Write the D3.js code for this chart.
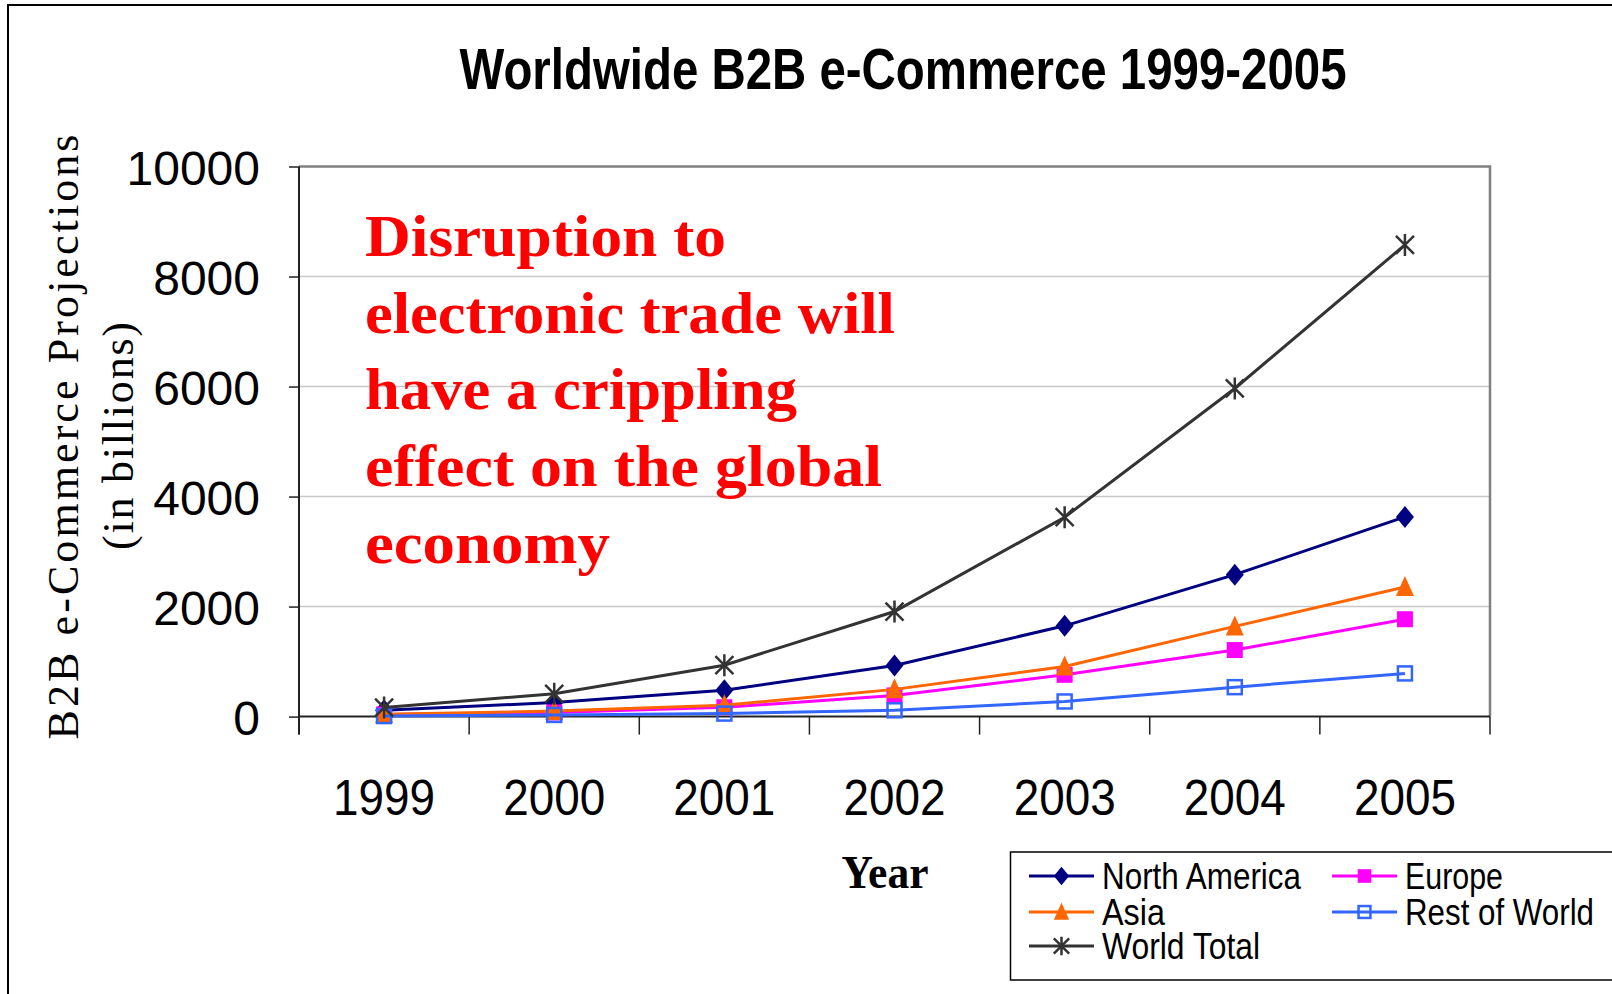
<!DOCTYPE html>
<html>
<head>
<meta charset="utf-8">
<script src="https://cdn.jsdelivr.net/npm/d3@7"></script>
<style>
  html, body { margin: 0; padding: 0; background: #fff; }
  svg { display: block; }
</style>
</head>
<body>
<svg id="chart" width="1612" height="994"></svg>
<script>
// Years on the category axis
const years = ["1999", "2000", "2001", "2002", "2003", "2004", "2005"];

// B2B e-commerce projections, billions of US dollars
const northAmerica = [115, 255, 480, 930, 1650, 2580, 3630];
const europe       = [40, 75, 170, 385, 760, 1210, 1770];
const asia         = [45, 100, 205, 495, 910, 1640, 2355];
const restOfWorld  = [10, 30, 55, 115, 275, 535, 785];
const worldTotal   = [165, 415, 935, 1910, 3625, 5965, 8575];

// Value axis ticks
const yTicks = [0, 2000, 4000, 6000, 8000, 10000];

// Annotation lines
const noteLines = [
  "Disruption to",
  "electronic trade will",
  "have a crippling",
  "effect on the global",
  "economy"
];
const noteWidths = [361, 530, 432, 517, 245];

const series = [
  { name: "North America", values: northAmerica, color: "#000080", marker: "diamond" },
  { name: "Europe",        values: europe,       color: "#FF00FF", marker: "square" },
  { name: "Asia",          values: asia,         color: "#FF6600", marker: "triangle" },
  { name: "Rest of World", values: restOfWorld,  color: "#3366FF", marker: "openSquare" },
  { name: "World Total",   values: worldTotal,   color: "#333333", marker: "star" }
];

const svg = d3.select("#chart");

// Plot area
const plot = { left: 299, right: 1490, top: 166.5, bottom: 716.6 };

const x = d3.scaleBand().domain(years).range([plot.left, plot.right]);
const y = d3.scaleLinear().domain([0, 10000]).range([plot.bottom, plot.top]);

// Outer chart frame
svg.append("rect")
  .attr("x", 8).attr("y", 5)
  .attr("width", 1700).attr("height", 1100)
  .attr("fill", "#fff").attr("stroke", "#000").attr("stroke-width", 2);

// Title
svg.append("text")
  .attr("x", 903).attr("y", 89)
  .attr("text-anchor", "middle")
  .attr("font-family", "'Liberation Sans Narrow', 'Arial Narrow', 'Liberation Sans', Arial, sans-serif")
  .attr("font-weight", "bold")
  .attr("font-size", 57)
  .attr("textLength", 887)
  .attr("lengthAdjust", "spacingAndGlyphs")
  .text("Worldwide B2B e-Commerce 1999-2005");

// Horizontal gridlines
svg.append("g")
  .selectAll("line")
  .data(yTicks.filter(d => d > 0 && d < 10000))
  .join("line")
  .attr("x1", plot.left).attr("x2", plot.right)
  .attr("y1", d => y(d)).attr("y2", d => y(d))
  .attr("stroke", "#c8c8c8").attr("stroke-width", 1.5);

// Plot area border (top and right)
svg.append("path")
  .attr("d", `M${plot.left},${plot.top}H${plot.right}V${plot.bottom}`)
  .attr("fill", "none").attr("stroke", "#808080").attr("stroke-width", 2.5);

// Value axis
const yAxis = svg.append("g")
  .attr("transform", `translate(${plot.left},0)`)
  .call(d3.axisLeft(y).tickValues(yTicks).tickSize(10).tickPadding(29).tickFormat(d3.format("d")));
yAxis.select(".domain").attr("stroke", "#222").attr("stroke-width", 2).attr("d", `M0,${plot.top}V${plot.bottom + 18}`);
yAxis.selectAll(".tick line").attr("stroke", "#222").attr("stroke-width", 1.5);
yAxis.selectAll(".tick text")
  .attr("font-family", "'Liberation Sans', Arial, sans-serif")
  .attr("font-size", 48)
  .attr("fill", "#000")
  .attr("dy", "0.38em");

// Category axis
const xAxis = svg.append("g")
  .attr("transform", `translate(0,${plot.bottom})`)
  .call(d3.axisBottom(x).tickSize(0).tickPadding(0));
xAxis.select(".domain").attr("stroke", "#222").attr("stroke-width", 2).attr("d", `M${plot.left},0H${plot.right}`);
xAxis.selectAll(".tick text")
  .attr("font-family", "'Liberation Sans', Arial, sans-serif")
  .attr("font-size", 50)
  .attr("fill", "#000")
  .attr("y", 98)
  .attr("dy", 0)
  .attr("textLength", 102)
  .attr("lengthAdjust", "spacingAndGlyphs");

// Tick marks between categories
const boundaries = years.map(d => x(d)).concat([x(years[years.length - 1]) + x.bandwidth()]);
svg.append("g")
  .selectAll("line")
  .data(boundaries)
  .join("line")
  .attr("x1", d => d).attr("x2", d => d)
  .attr("y1", plot.bottom).attr("y2", plot.bottom + 18)
  .attr("stroke", "#222").attr("stroke-width", 1.5);

// Axis titles
const yTitle = svg.append("g").attr("font-family", "'Liberation Serif', 'Times New Roman', serif").attr("fill", "#000");
yTitle.append("text")
  .attr("transform", "translate(78,437) rotate(-90)")
  .attr("text-anchor", "middle")
  .attr("font-size", 44)
  .attr("textLength", 605)
  .attr("lengthAdjust", "spacing")
  .text("B2B e-Commerce Projections");
yTitle.append("text")
  .attr("transform", "translate(133,436) rotate(-90)")
  .attr("text-anchor", "middle")
  .attr("font-size", 44)
  .attr("textLength", 228)
  .attr("lengthAdjust", "spacing")
  .text("(in billions)");

svg.append("text")
  .attr("x", 885).attr("y", 888)
  .attr("text-anchor", "middle")
  .attr("font-family", "'Liberation Serif', 'Times New Roman', serif")
  .attr("font-weight", "bold")
  .attr("font-size", 46)
  .attr("textLength", 87)
  .attr("lengthAdjust", "spacingAndGlyphs")
  .text("Year");

// Annotation
svg.append("g")
  .selectAll("text")
  .data(noteLines)
  .join("text")
  .attr("x", 365)
  .attr("y", (d, i) => 256 + i * 76.7)
  .attr("font-family", "'Liberation Serif', 'Times New Roman', serif")
  .attr("font-weight", "bold")
  .attr("font-size", 60)
  .attr("fill", "#FF0000")
  .attr("textLength", (d, i) => noteWidths[i])
  .attr("lengthAdjust", "spacingAndGlyphs")
  .text(d => d);

// Marker shapes
function drawMarker(g, type, color, s = 1) {
  if (type === "diamond") {
    g.append("path").attr("d", `M0,${-11 * s}L${9 * s},0L0,${11 * s}L${-9 * s},0Z`).attr("fill", color);
  } else if (type === "square") {
    g.append("rect").attr("x", -8 * s).attr("y", -8 * s).attr("width", 16 * s).attr("height", 16 * s).attr("fill", color);
  } else if (type === "triangle") {
    g.append("path").attr("d", `M0,${-11 * s}L${9 * s},${9 * s}L${-9 * s},${9 * s}Z`).attr("fill", color);
  } else if (type === "openSquare") {
    g.append("rect").attr("x", -7 * s).attr("y", -7 * s).attr("width", 14 * s).attr("height", 14 * s)
      .attr("fill", "none").attr("stroke", color).attr("stroke-width", 2.5);
  } else if (type === "star") {
    g.append("path").attr("d", `M0,${-11 * s}V${11 * s}M${-9 * s},${-9 * s}L${9 * s},${9 * s}M${-9 * s},${9 * s}L${9 * s},${-9 * s}`)
      .attr("fill", "none").attr("stroke", color).attr("stroke-width", 2.5);
  }
}

const cx = d => x(d) + x.bandwidth() / 2;
const line = d3.line().x(d => cx(d.year)).y(d => y(d.value));

series.forEach(s => {
  const pts = years.map((yr, i) => ({ year: yr, value: s.values[i] }));
  const g = svg.append("g");
  g.append("path")
    .datum(pts)
    .attr("d", line)
    .attr("fill", "none")
    .attr("stroke", s.color)
    .attr("stroke-width", 3);
  pts.forEach(p => {
    const m = g.append("g").attr("transform", `translate(${cx(p.year)},${y(p.value)})`);
    drawMarker(m, s.marker, s.color);
  });
});

// Legend
const legend = svg.append("g");
legend.append("rect")
  .attr("x", 1010.5).attr("y", 852)
  .attr("width", 700).attr("height", 128)
  .attr("fill", "#fff").attr("stroke", "#000").attr("stroke-width", 1.5);

const legendPos = [
  { x: 1029, y: 876 },   // North America
  { x: 1332, y: 876 },   // Europe
  { x: 1029, y: 912 },   // Asia
  { x: 1332, y: 912 },   // Rest of World
  { x: 1029, y: 946 }    // World Total
];
const legendTextWidths = [199, 98, 63, 189, 158];

series.forEach((s, i) => {
  const p = legendPos[i];
  const g = legend.append("g").attr("transform", `translate(${p.x},${p.y})`);
  g.append("line").attr("x1", 0).attr("x2", 65).attr("y1", 0).attr("y2", 0)
    .attr("stroke", s.color).attr("stroke-width", 3);
  const m = g.append("g").attr("transform", "translate(32.5,0)");
  drawMarker(m, s.marker, s.color, 0.85);
  g.append("text")
    .attr("x", 73).attr("y", 13)
    .attr("font-family", "'Liberation Sans Narrow', 'Arial Narrow', 'Liberation Sans', Arial, sans-serif")
    .attr("font-size", 37)
    .attr("fill", "#000")
    .attr("textLength", legendTextWidths[i])
    .attr("lengthAdjust", "spacingAndGlyphs")
    .text(s.name);
});
</script>
</body>
</html>
